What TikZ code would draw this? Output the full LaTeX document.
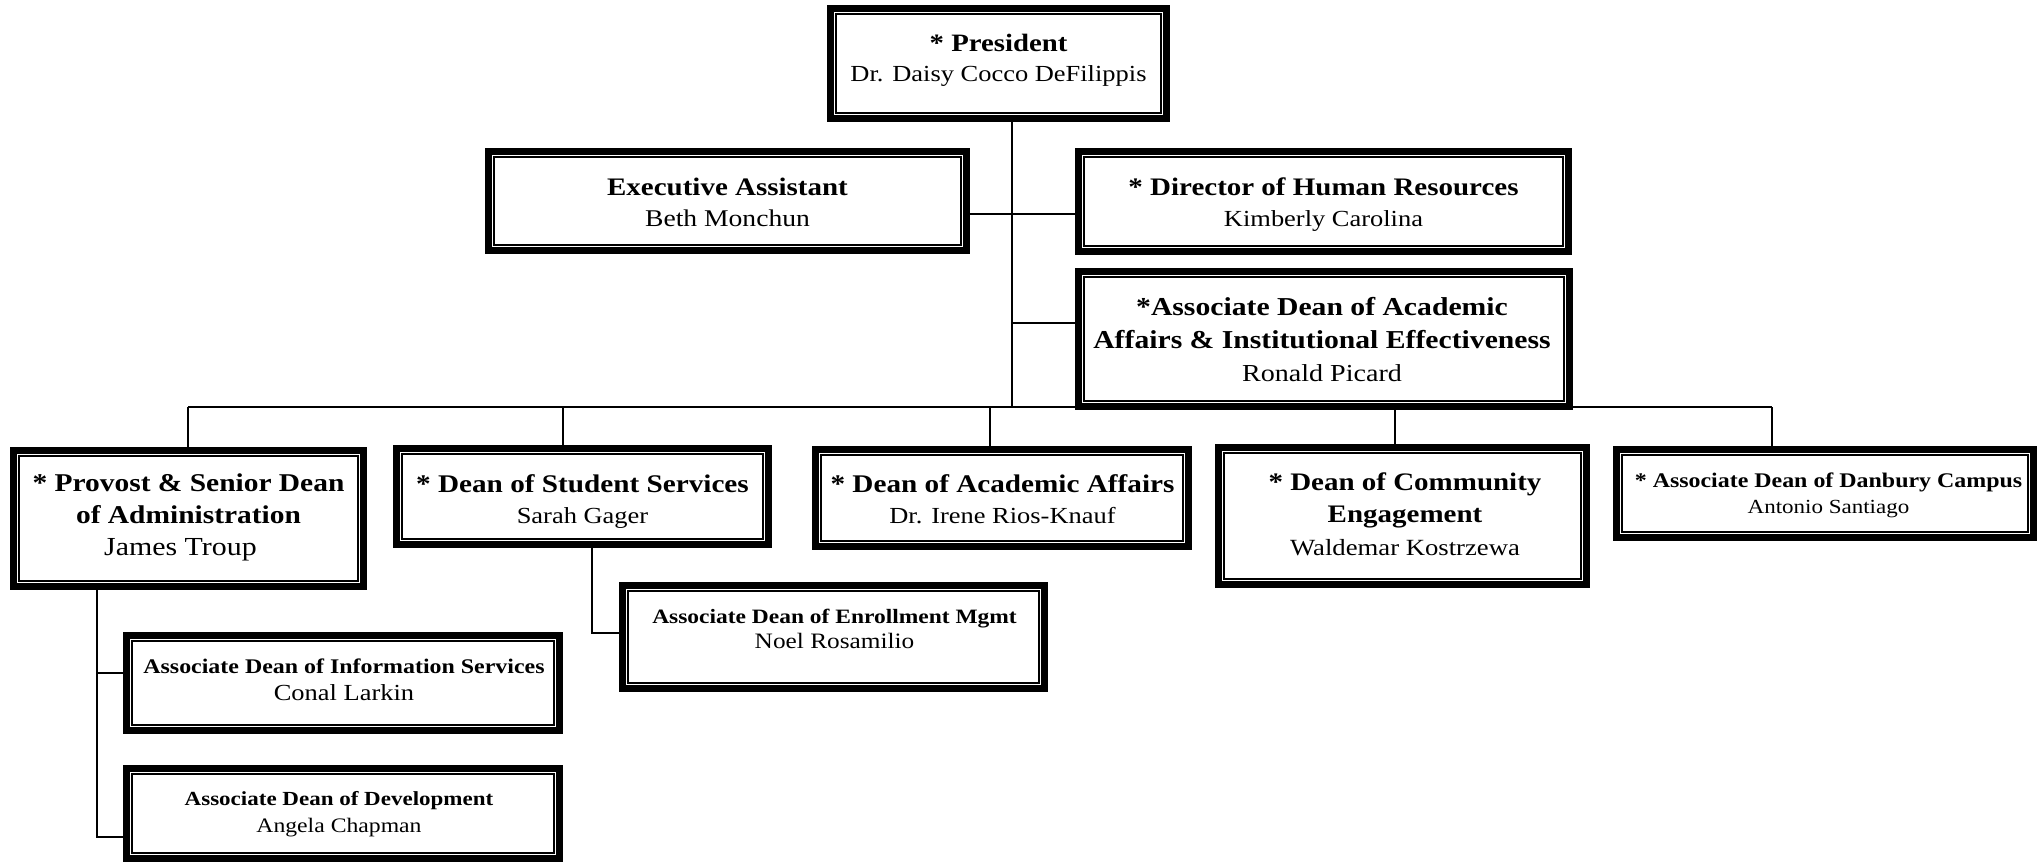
\documentclass[tikz,border=0pt]{standalone}
\usepackage{fontspec}
\setmainfont{Liberation Serif}[FakeStretch=1.15]
\newcommand\bt[2]{\textbf{\fontsize{#1}{#1}\selectfont #2}}
\begin{document}
\begin{tikzpicture}[x=0.5pt,y=-0.5pt,
  obox/.style={draw, line width=3.4pt, inner sep=0pt},
  inbox/.style={line width=0.9pt},
  conn/.style={line width=1.3pt},
  tx/.style={anchor=north, inner sep=0pt, align=center}]
\useasboundingbox (0,0) rectangle (2042,864);

% boxes
\node[obox, minimum width=168pt,   minimum height=55pt]   (pres) at (998.5,63.5) {};
\node[obox, minimum width=239pt,   minimum height=49.5pt] (exec) at (727.5,201) {};
\node[obox, minimum width=245pt,   minimum height=50pt]   (hr)   at (1323.5,201.5) {};
\node[obox, minimum width=245.5pt, minimum height=67.5pt] (aad)  at (1324,339) {};
\node[obox, minimum width=175pt,   minimum height=68pt]   (prov) at (188.5,518.5) {};
\node[obox, minimum width=186pt,   minimum height=48pt]   (stu)  at (582.5,496.5) {};
\node[obox, minimum width=186.5pt, minimum height=48.5pt] (acad) at (1002,498) {};
\node[obox, minimum width=184pt,   minimum height=68.5pt] (comm) at (1402.5,516) {};
\node[obox, minimum width=208.5pt, minimum height=44pt]   (danb) at (1825,493.5) {};
\node[obox, minimum width=211pt,   minimum height=51.5pt] (enr)  at (833.5,637) {};
\node[obox, minimum width=216.5pt, minimum height=47.5pt] (info) at (343,683) {};
\node[obox, minimum width=216.5pt, minimum height=45pt]   (dev)  at (343,813.5) {};

\foreach \n in {pres,exec,hr,aad,prov,stu,acad,comm,danb,enr,info,dev}
  \draw[inbox] ([shift={(4.3pt,4.3pt)}]\n.south west) rectangle ([shift={(-4.3pt,-4.3pt)}]\n.north east);

% texts
\node[tx, font=\fontsize{11.5}{15}\selectfont] (presT) at (998.5,31.5)
  {\rule{0pt}{10pt}\bt{12.5}{* President}\\Dr. Daisy Cocco DeFilippis};
\node[tx, font=\fontsize{12}{15.5}\selectfont] (execT) at (727.5,175)
  {\rule{0pt}{10pt}\bt{12.6}{Executive Assistant}\\Beth Monchun};
\node[tx, font=\fontsize{11.5}{15.5}\selectfont] (hrT) at (1323.5,175)
  {\rule{0pt}{10pt}\bt{12.6}{* Director of Human Resources}\\Kimberly Carolina};
\node[tx, font=\fontsize{12.2}{16.5}\selectfont] (aadT) at (1322,295)
  {\rule{0pt}{10pt}\bt{12.9}{*Associate Dean of Academic}\\\bt{12.9}{Affairs \& Institutional Effectiveness}\\Ronald Picard};
\node[tx, font=\fontsize{13}{16}\selectfont] (provT) at (188.5,471.5)
  {\rule{0pt}{10pt}\bt{12.8}{* Provost \& Senior Dean}\\\bt{12.8}{of Administration}\\James Troup\hspace*{8pt}};
\node[tx, font=\fontsize{11.5}{15.5}\selectfont] (stuT) at (582.5,472)
  {\rule{0pt}{10pt}\bt{12.7}{* Dean of Student Services}\\Sarah Gager};
\node[tx, font=\fontsize{11.5}{15.5}\selectfont] (acadT) at (1002.5,472)
  {\rule{0pt}{10pt}\bt{12.7}{* Dean of Academic Affairs}\\Dr. Irene Rios-Knauf};
\node[tx, font=\fontsize{11.6}{16.25}\selectfont] (commT) at (1405,470)
  {\rule{0pt}{10pt}\bt{12.6}{* Dean of Community}\\\bt{12.6}{Engagement}\\Waldemar Kostrzewa};
\node[tx, font=\fontsize{10}{13}\selectfont] (danbT) at (1828.5,467.5)
  {\rule{0pt}{10pt}\bt{10.4}{* Associate Dean of Danbury Campus}\\Antonio Santiago};
\node[tx, font=\fontsize{11}{12.5}\selectfont] (enrT) at (834.5,603)
  {\rule{0pt}{10pt}\bt{10.2}{Associate Dean of Enrollment Mgmt}\\Noel Rosamilio};
\node[tx, font=\fontsize{11.5}{13.5}\selectfont] (infoT) at (344,653)
  {\rule{0pt}{10pt}\bt{10.4}{Associate Dean of Information Services}\\Conal Larkin};
\node[tx, font=\fontsize{10.3}{13.5}\selectfont] (devT) at (339,785)
  {\rule{0pt}{10pt}\bt{10}{Associate Dean of Development}\\Angela Chapman};

% connectors
\coordinate (tb)   at (1012,407);
\coordinate (eh)   at (1012,214);
\coordinate (ad)   at (1012,323);
\coordinate (busL) at (188,407);
\coordinate (busR) at (1772,407);
\coordinate (d2)   at (563,407);
\coordinate (d3)   at (990,407);
\coordinate (d4)   at (1395,407);
\coordinate (e1)   at (592,633);
\coordinate (p1)   at (97,673);
\coordinate (p2)   at (97,837);

\draw[conn] (pres.south -| tb) -- (tb);
\draw[conn] (exec.east |- eh) -- (hr.west |- eh);
\draw[conn] (ad) -- (aad.west |- ad);
\draw[conn] (busL) -- (busR);
\draw[conn] (busL) -- (busL |- prov.north);
\draw[conn] (d2) -- (d2 |- stu.north);
\draw[conn] (d3) -- (d3 |- acad.north);
\draw[conn] (d4) -- (d4 |- comm.north);
\draw[conn] (busR) -- (busR |- danb.north);
\draw[conn] (e1 |- stu.south) -- (e1) -- (enr.west |- e1);
\draw[conn] (p1 |- prov.south) -- (p2) -- (dev.west |- p2);
\draw[conn] (p1) -- (info.west |- p1);
\end{tikzpicture}
\end{document}
